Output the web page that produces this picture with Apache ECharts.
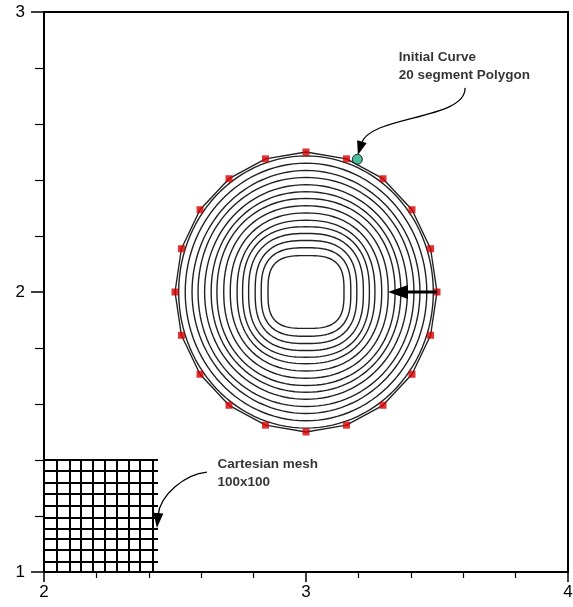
<!DOCTYPE html>
<html><head><meta charset="utf-8">
<script src="https://cdn.jsdelivr.net/npm/echarts@6/dist/echarts.min.js"></script>
<style>html,body{margin:0;padding:0;background:#fff}#c{width:573px;height:607px}</style>
</head><body><div id="c"></div>
<script>
// ---- data ----
const xTicks = [2, 3, 4];
const yTicks = [1, 2, 3];
const center = [3.0, 2.0];
// initial curve: 20 segment polygon, radius 0.5
const polygonRadius = 0.5;
const polygonSegments = 20;
// evolved level-set curves (half-widths in x and y, squareness exponent)
const ringRx = [0.486, 0.461, 0.435, 0.412, 0.387, 0.362, 0.340, 0.314, 0.289, 0.263, 0.242, 0.219, 0.194, 0.171, 0.145];
const ringRy = [0.486, 0.460, 0.434, 0.409, 0.383, 0.358, 0.334, 0.308, 0.282, 0.256, 0.233, 0.209, 0.184, 0.158, 0.130];
const ringN  = [2.0, 2.0, 2.0, 2.05, 2.05, 2.1, 2.15, 2.2, 2.25, 2.35, 2.45, 2.55, 2.7, 2.85, 3.1];
const greenPoint = [[3.196, 2.474]];
// Cartesian mesh (shown portion)
const meshX = [2.0, 2.048, 2.097, 2.141, 2.186, 2.230, 2.277, 2.322, 2.366, 2.415];
const meshY = [1.0, 1.037, 1.079, 1.117, 1.156, 1.194, 1.236, 1.278, 1.319, 1.361, 1.4];
const meshXEnd = 2.435;
// annotations
const labels = [
  [3.352, 2.838, 'Initial Curve'],
  [3.352, 2.775, '20 segment Polygon'],
  [2.660, 1.386, 'Cartesian mesh'],
  [2.660, 1.322, '100x100']
];
const arrowInitial = [[3.607, 2.729], [3.611, 2.614], [3.244, 2.632], [3.198, 2.489]];
const arrowMesh    = [[2.622, 1.357], [2.538, 1.350], [2.443, 1.275], [2.431, 1.157]];
const arrowShrink  = [[3.500, 2.000], [3.313, 2.000]];

// ---- build ----
const polyPts = [];
for (let k = 0; k <= polygonSegments; k++) {
  const a = 2 * Math.PI * k / polygonSegments;
  polyPts.push([center[0] + polygonRadius * Math.cos(a), center[1] + polygonRadius * Math.sin(a)]);
}
const vertexPts = polyPts.slice(0, polygonSegments);

function ringPoints(rx, ry, n) {
  const pts = [];
  const steps = 120;
  for (let i = 0; i <= steps; i++) {
    const t = 2 * Math.PI * i / steps;
    const c = Math.cos(t), s = Math.sin(t);
    pts.push([center[0] + rx * Math.sign(c) * Math.pow(Math.abs(c), 2 / n),
              center[1] + ry * Math.sign(s) * Math.pow(Math.abs(s), 2 / n)]);
  }
  return pts;
}

const meshLines = [];
meshX.forEach(x => meshLines.push({coords: [[x, meshY[0]], [x, meshY[meshY.length - 1]]]}));
meshY.forEach(y => meshLines.push({coords: [[meshX[0], y], [meshXEnd, y]]}));

const FONT = '"Liberation Sans", Arial, sans-serif';

function arrowSeries(pts, lw, headLen, headW) {
  const flat = [];
  pts.forEach(p => { flat.push(p[0], p[1]); });
  const xs = [], ys = [];
  pts.forEach((p, i) => { xs.push(2 * i); ys.push(2 * i + 1); });
  return {
    type: 'custom', silent: true, z: 10,
    encode: {x: xs, y: ys},
    data: [flat],
    renderItem: function (params, api) {
      const P = [];
      for (let i = 0; i < pts.length; i++) P.push(api.coord([api.value(2 * i), api.value(2 * i + 1)]));
      const tip = P[P.length - 1], prev = P[P.length - 2];
      let dx = tip[0] - prev[0], dy = tip[1] - prev[1];
      const L = Math.hypot(dx, dy); dx /= L; dy /= L;
      const bx = tip[0] - dx * headLen, by = tip[1] - dy * headLen;
      const px = -dy, py = dx;
      let body;
      if (P.length === 4) {
        body = {type: 'bezierCurve', shape: {x1: P[0][0], y1: P[0][1], cpx1: P[1][0], cpy1: P[1][1], cpx2: P[2][0], cpy2: P[2][1], x2: bx + dx * 2, y2: by + dy * 2},
                style: {stroke: '#000', fill: null, lineWidth: lw}};
      } else {
        body = {type: 'line', shape: {x1: P[0][0], y1: P[0][1], x2: bx + dx * 2, y2: by + dy * 2}, style: {stroke: '#000', lineWidth: lw}};
      }
      const head = {type: 'polygon', shape: {points: [tip, [bx + px * headW, by + py * headW], [bx - px * headW, by - py * headW]]}, style: {fill: '#000'}};
      return {type: 'group', children: [body, head]};
    }
  };
}

const series = [];
// mesh
series.push({type: 'lines', coordinateSystem: 'cartesian2d', silent: true, z: 2,
  lineStyle: {color: '#000', width: 2, opacity: 1}, data: meshLines});
// rings
ringRx.forEach((rx, i) => {
  series.push({type: 'line', data: ringPoints(rx, ringRy[i], ringN[i]), showSymbol: false, silent: true, z: 3,
    lineStyle: {color: '#222', width: 1.4}, animation: false});
});
// polygon
series.push({type: 'line', data: polyPts, showSymbol: false, silent: true, z: 4, lineStyle: {color: '#222', width: 1.4}});
// vertices
series.push({type: 'scatter', data: vertexPts, symbol: 'rect', symbolSize: 7, silent: true, z: 5, itemStyle: {color: '#d80000'}});
series.push({type: 'scatter', data: greenPoint, symbol: 'circle', symbolSize: 10, silent: true, z: 6, itemStyle: {color: '#1fae88', borderColor: '#000', borderWidth: 1}});
// labels
series.push({type: 'scatter', data: labels, symbolSize: 1, silent: true, z: 8, itemStyle: {color: 'rgba(0,0,0,0)'},
  label: {show: true, position: 'right', distance: 0, formatter: p => p.data[2], color: '#000', fontFamily: FONT, fontWeight: 'bold', fontSize: 13.5}});
// arrows
series.push(arrowSeries(arrowInitial, 1.3, 14, 5));
series.push(arrowSeries(arrowMesh, 1.3, 15, 5));
series.push(arrowSeries(arrowShrink, 3, 20, 7));

const chart = echarts.init(document.getElementById('c'), null, {renderer: 'canvas'});
chart.setOption({
  animation: false,
  backgroundColor: '#fff',
  grid: {left: 44, right: 5, top: 12, bottom: 35, outerBoundsMode: 'none', containLabel: false, show: true, borderColor: '#000', borderWidth: 2, backgroundColor: 'transparent'},
  xAxis: {type: 'value', min: xTicks[0], max: xTicks[xTicks.length - 1], interval: 1,
    axisLine: {lineStyle: {color: '#000', width: 2}}, axisTick: {length: 10, lineStyle: {color: '#000', width: 1.5}},
    minorTick: {show: true, splitNumber: 5, length: 6, lineStyle: {color: '#000', width: 1.2}},
    splitLine: {show: false}, axisLabel: {color: '#000', fontSize: 17, fontFamily: FONT, margin: 12}},
  yAxis: {type: 'value', min: yTicks[0], max: yTicks[yTicks.length - 1], interval: 1,
    axisLine: {lineStyle: {color: '#000', width: 2}}, axisTick: {length: 13, lineStyle: {color: '#000', width: 1.5}},
    minorTick: {show: true, splitNumber: 5, length: 9, lineStyle: {color: '#000', width: 1.2}},
    splitLine: {show: false}, axisLabel: {color: '#000', fontSize: 17, fontFamily: FONT, margin: 19}},
  series: series
});
</script></body></html>
